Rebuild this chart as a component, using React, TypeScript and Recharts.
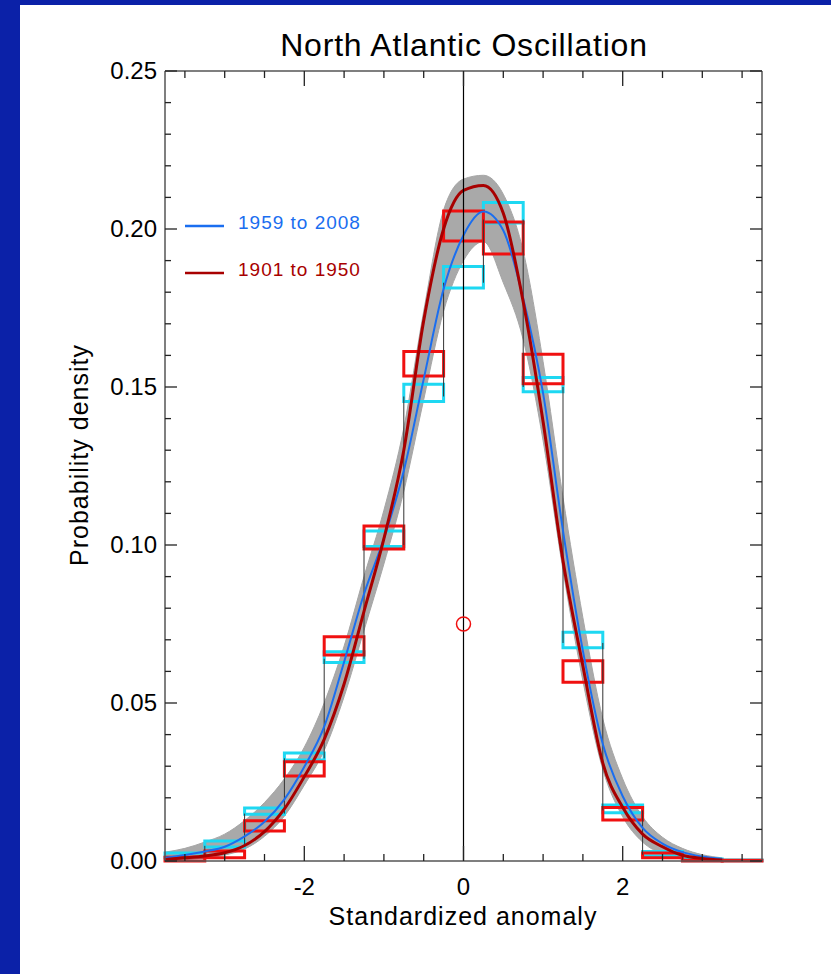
import {
  ComposedChart,
  XAxis,
  YAxis,
  Line,
  Area,
  ReferenceArea,
  ReferenceLine,
  ReferenceDot,
} from 'recharts';

// fitted densities, every 0.25
const gridX = [
  -3.75, -3.5, -3.25, -3, -2.75, -2.5, -2.25, -2, -1.75, -1.5, -1.25, -1, -0.75, -0.5, -0.25, 0,
  0.25, 0.5, 0.75, 1, 1.25, 1.5, 1.75, 2, 2.25, 2.5, 2.75, 3, 3.25, 3.5, 3.75,
];
const fit1959 = [
  0.001, 0.0019, 0.003, 0.0045, 0.0078, 0.0124, 0.0195, 0.0298, 0.0425, 0.063, 0.0845, 0.102, 0.1235,
  0.1525, 0.181, 0.198, 0.2055, 0.1995, 0.178, 0.148, 0.1045, 0.0665, 0.037, 0.0205, 0.0105, 0.0055,
  0.0028, 0.0014, 0.0006, null, null,
];
const fit1901 = [
  0.0005, 0.001, 0.0016, 0.0026, 0.0049, 0.0093, 0.0165, 0.0267, 0.0385, 0.056, 0.079, 0.102, 0.13,
  0.171, 0.2, 0.2122, 0.2138, 0.205, 0.177, 0.139, 0.095, 0.0617, 0.031, 0.017, 0.0085, 0.0045,
  0.0018, 0.0008, 0.0003, null, null,
];
const bandLow = [
  0, 0.0004, 0.001, 0.0019, 0.0038, 0.0078, 0.0142, 0.024, 0.035, 0.052, 0.073, 0.094, 0.117, 0.146,
  0.174, 0.19, 0.196, 0.183, 0.165, 0.133, 0.092, 0.057, 0.029, 0.014, 0.006, 0.0022, 0.0006, 0, 0,
  null, null,
];
const bandHigh = [
  0.0028, 0.004, 0.006, 0.0085, 0.0128, 0.0185, 0.026, 0.036, 0.05, 0.068, 0.09, 0.111, 0.137,
  0.174, 0.206, 0.2158, 0.217, 0.211, 0.193, 0.158, 0.115, 0.077, 0.045, 0.026, 0.014, 0.0075, 0.004,
  0.002, 0.001, null, null,
];

// histogram bins (width 0.5) with their uncertainty boxes
const binCenters = [-3.5, -3, -2.5, -2, -1.5, -1, -0.5, 0, 0.5, 1, 1.5, 2, 2.5, 3, 3.5];
const cyanLow = [0.001, 0.0044, 0.0148, 0.032, 0.0628, 0.0995, 0.1454, 0.1813, 0.2019, 0.1485, 0.0675, 0.0153, 0.0017, 0.0001, 0.0001];
const cyanHigh = [0.0025, 0.0063, 0.0168, 0.0342, 0.0662, 0.1044, 0.1509, 0.1881, 0.2084, 0.153, 0.0724, 0.0177, 0.003, 0.0006, 0.0003];
const redLow = [0, 0.001, 0.0095, 0.0269, 0.0652, 0.0987, 0.1535, 0.1962, 0.1921, 0.151, 0.0566, 0.013, 0.001, 0, 0];
const redHigh = [0.0012, 0.0032, 0.0127, 0.0314, 0.071, 0.106, 0.1612, 0.2057, 0.2022, 0.1604, 0.0634, 0.0169, 0.0025, 0.0002, 0.0002];
// thin black histogram outline (only its risers show between the boxes)
const histLevel = [0.0015, 0.0048, 0.015, 0.0325, 0.064, 0.1, 0.147, 0.183, 0.203, 0.15, 0.069, 0.016, 0.002, 0.0002, 0.0001];
const binHalf = 0.25;

const outlierX = [0];
const outlierY = [0.075];

const xTicks = [-3.5, -3, -2.5, -2, -1.5, -1, -0.5, 0, 0.5, 1, 1.5, 2, 2.5, 3, 3.5];
const xLabels = [-2, 0, 2];
const yTicks = [
  0, 0.01, 0.02, 0.03, 0.04, 0.05, 0.06, 0.07, 0.08, 0.09, 0.1, 0.11, 0.12, 0.13, 0.14, 0.15, 0.16,
  0.17, 0.18, 0.19, 0.2, 0.21, 0.22, 0.23, 0.24, 0.25,
];
const yLabels = [0, 0.05, 0.1, 0.15, 0.2, 0.25];

const fitData = gridX.map((x, i) => ({
  x,
  blue: fit1959[i],
  red: fit1901[i],
  band: bandLow[i] == null ? null : [bandLow[i], bandHigh[i]],
}));

const W = 831;
const H = 974;
const PLOT_W = 597;
const PLOT_H = 790;
const FONT = '"Liberation Sans", Arial, Helvetica, sans-serif';
const BLUE = '#1a6ef0';
const DARKRED = '#a80000';
const RED = '#f01010';
const CYAN = '#1ed8f2';

function XTick(props: any) {
  const { x, y, payload } = props;
  const major = xLabels.includes(payload.value);
  const len = major ? 15 : 7;
  return (
    <g>
      <line x1={x} x2={x} y1={y} y2={y - len} stroke="#222" strokeWidth={1.3} />
      <line x1={x} x2={x} y1={y - PLOT_H} y2={y - PLOT_H + len} stroke="#222" strokeWidth={1.3} />
      {major && (
        <text x={x} y={y + 34} textAnchor="middle" fontSize={24} fontFamily={FONT} fill="#000">
          {payload.value}
        </text>
      )}
    </g>
  );
}

function YTick(props: any) {
  const { x, y, payload } = props;
  const major = yLabels.includes(payload.value);
  const len = major ? 12 : 6;
  return (
    <g>
      <line x1={x} x2={x + len} y1={y} y2={y} stroke="#222" strokeWidth={1.3} />
      <line x1={x + PLOT_W} x2={x + PLOT_W - len} y1={y} y2={y} stroke="#222" strokeWidth={1.3} />
      {major && (
        <text x={x - 8} y={y + 8} textAnchor="end" fontSize={24} fontFamily={FONT} fill="#000">
          {payload.value.toFixed(2)}
        </text>
      )}
    </g>
  );
}

export default function App() {
  return (
    <div style={{ position: 'absolute', left: 0, top: 0, width: W, height: H, background: '#0b21a8' }}>
      <div style={{ position: 'absolute', left: 20, top: 5, width: W - 20, height: H - 5, background: '#fff' }} />
      <div style={{ position: 'absolute', left: 0, top: 0 }}>
        <ComposedChart
          width={W}
          height={H}
          data={fitData}
          margin={{ top: 71, right: 69, left: 105, bottom: 53 }}
        >
          <XAxis
            dataKey="x"
            type="number"
            domain={[-3.75, 3.75]}
            ticks={xTicks}
            interval={0}
            allowDataOverflow
            height={60}
            tickSize={0}
            tickMargin={0}
            tickLine={false}
            axisLine={{ stroke: '#555', strokeWidth: 1.5 }}
            tick={(p: any) => <XTick {...p} />}
          />
          <YAxis
            type="number"
            domain={[0, 0.25]}
            ticks={yTicks}
            interval={0}
            allowDataOverflow
            width={60}
            tickSize={0}
            tickMargin={0}
            tickLine={false}
            axisLine={{ stroke: '#555', strokeWidth: 1.5 }}
            tick={(p: any) => <YTick {...p} />}
          />
          <Area
            dataKey="band"
            type="monotone"
            stroke="#a6a6a6"
            strokeWidth={1}
            fill="#a9a9a9"
            fillOpacity={1}
            isAnimationActive={false}
          />
          {binCenters.slice(1).map((c, k) => (
            <ReferenceLine
              key={'h' + k}
              segment={[
                { x: c - binHalf, y: histLevel[k] },
                { x: c - binHalf, y: histLevel[k + 1] },
              ]}
              stroke="#333"
              strokeWidth={1}
            />
          ))}
          {binCenters.map((c, i) => (
            <ReferenceArea
              key={'c' + i}
              x1={c - binHalf}
              x2={c + binHalf}
              y1={cyanLow[i]}
              y2={cyanHigh[i]}
              fill="none"
              stroke={CYAN}
              strokeWidth={3}
              ifOverflow="visible"
            />
          ))}
          {binCenters.map((c, i) => (
            <ReferenceArea
              key={'r' + i}
              x1={c - binHalf}
              x2={c + binHalf}
              y1={redLow[i]}
              y2={redHigh[i]}
              fill="none"
              stroke={RED}
              strokeWidth={3}
              ifOverflow="visible"
            />
          ))}
          <Line
            dataKey="blue"
            type="monotone"
            stroke={BLUE}
            strokeWidth={2}
            dot={false}
            isAnimationActive={false}
          />
          <Line
            dataKey="red"
            type="monotone"
            stroke={DARKRED}
            strokeWidth={3}
            dot={false}
            isAnimationActive={false}
          />
          <ReferenceLine x={0} stroke="#000" strokeWidth={1.2} />
          <ReferenceLine y={0.25} stroke="#555" strokeWidth={1.5} />
          <ReferenceLine x={3.75} stroke="#555" strokeWidth={1.5} />
          {outlierX.map((x, i) => (
            <ReferenceDot key={i} x={x} y={outlierY[i]} r={7} fill="none" stroke={RED} strokeWidth={1.5} />
          ))}
        </ComposedChart>
      </div>
      <svg width={W} height={H} style={{ position: 'absolute', left: 0, top: 0, pointerEvents: 'none' }}>
        <text x={464} y={56} textAnchor="middle" fontSize={32} letterSpacing={0.8} fontFamily={FONT} fill="#000">
          North Atlantic Oscillation
        </text>
        <text x={463} y={925} textAnchor="middle" fontSize={25} letterSpacing={1} fontFamily={FONT} fill="#000">
          Standardized anomaly
        </text>
        <text
          transform="translate(88,455) rotate(-90)"
          textAnchor="middle"
          fontSize={25}
          letterSpacing={1}
          fontFamily={FONT}
          fill="#000"
        >
          Probability density
        </text>
        <line x1={185} x2={224} y1={226} y2={226} stroke={BLUE} strokeWidth={2.5} />
        <text x={238} y={229} fontSize={19} letterSpacing={1} fontFamily={FONT} fill={BLUE}>
          1959 to 2008
        </text>
        <line x1={185} x2={224} y1={273} y2={273} stroke={DARKRED} strokeWidth={2.5} />
        <text x={238} y={276} fontSize={19} letterSpacing={1} fontFamily={FONT} fill={DARKRED}>
          1901 to 1950
        </text>
      </svg>
    </div>
  );
}
